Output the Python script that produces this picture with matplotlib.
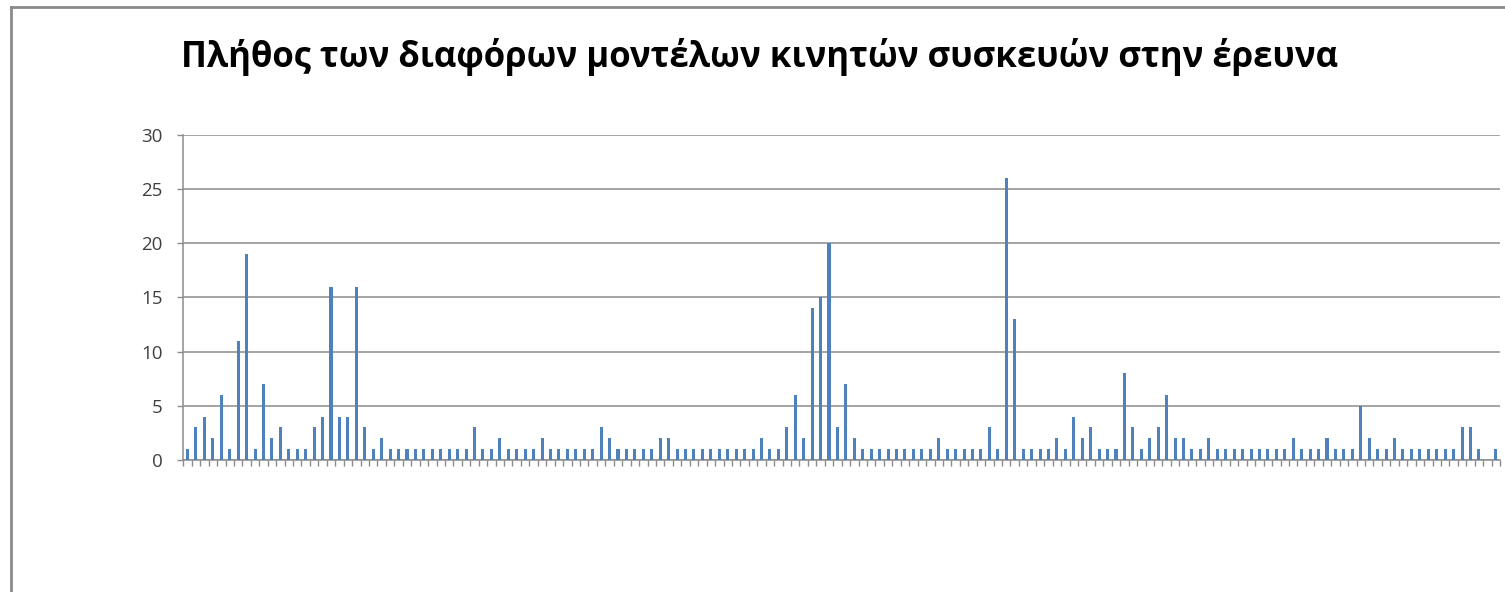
import numpy as np
import matplotlib
matplotlib.use("Agg")
import matplotlib.pyplot as plt
from matplotlib.lines import Line2D

# number of devices per model (156 models)
counts = [1, 3, 4, 2, 6, 1, 11, 19, 1, 7, 2, 3, 1, 1, 1, 3, 4, 16, 4, 4,
          16, 3, 1, 2, 1, 1, 1, 1, 1, 1, 1, 1, 1, 1, 3, 1, 1, 2, 1, 1,
          1, 1, 2, 1, 1, 1, 1, 1, 1, 3, 2, 1, 1, 1, 1, 1, 2, 2, 1, 1,
          1, 1, 1, 1, 1, 1, 1, 1, 2, 1, 1, 3, 6, 2, 14, 15, 20, 3, 7, 2,
          1, 1, 1, 1, 1, 1, 1, 1, 1, 2, 1, 1, 1, 1, 1, 3, 1, 26, 13, 1,
          1, 1, 1, 2, 1, 4, 2, 3, 1, 1, 1, 8, 3, 1, 2, 3, 6, 2, 2, 1,
          1, 2, 1, 1, 1, 1, 1, 1, 1, 1, 1, 2, 1, 1, 1, 2, 1, 1, 1, 5,
          2, 1, 1, 2, 1, 1, 1, 1, 1, 1, 1, 3, 3, 1, 0, 1]
yticks = [0, 5, 10, 15, 20, 25, 30]
title = "Πλήθος των διαφόρων μοντέλων κινητών συσκευών στην έρευνα"

plt.rcParams['font.family'] = ['Open Sans', 'DejaVu Sans']

fig = plt.figure(figsize=(15.05, 5.92), dpi=100)
ax = fig.add_axes([0.1218, 0.2230, 0.8749, 0.5490])

x = np.arange(len(counts))
ax.bar(x, counts, width=0.36, color='#4F81BD', zorder=3)

ax.set_xlim(-0.5, len(counts) - 0.5)
ax.set_ylim(0, 30)
ax.set_yticks(yticks)
ax.set_yticklabels([str(v) for v in yticks], fontsize=13.5, color='#404040')
ax.yaxis.grid(True, color='#8c8c8c', linewidth=1.1, zorder=0)

ax.set_xticks([])
ax.set_xticks(np.arange(len(counts) + 1) - 0.5, minor=True)
ax.tick_params(axis='x', which='minor', direction='out', length=4, color='#8c8c8c', width=1)
ax.tick_params(axis='y', direction='out', length=4, color='#8c8c8c', width=1, pad=11)

for s in ['top', 'right']:
    ax.spines[s].set_visible(False)
ax.spines['left'].set_color('#8c8c8c')
ax.spines['bottom'].set_color('#8c8c8c')
ax.spines['left'].set_linewidth(1.1)
ax.spines['bottom'].set_linewidth(1.1)

fig.text(0.5047, 0.903, title, ha='center', va='center', fontsize=25, fontweight='bold', color='black')

# outer chart border (cut at right/bottom like the screenshot)
fig.add_artist(Line2D([11/1505, 11/1505], [0, 1 - 7/592], transform=fig.transFigure, color='#8a8a8a', linewidth=2))
fig.add_artist(Line2D([11/1505, 1], [1 - 7/592, 1 - 7/592], transform=fig.transFigure, color='#8a8a8a', linewidth=2))

fig.savefig('out.png', dpi=100)
